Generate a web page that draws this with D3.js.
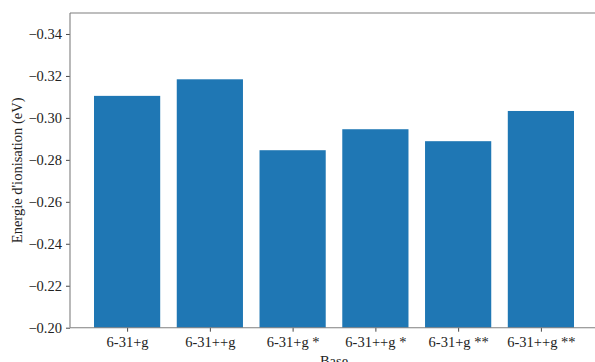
<!DOCTYPE html>
<html>
<head>
<meta charset="utf-8">
<script src="https://cdn.jsdelivr.net/npm/d3@7"></script>
<style>
  html, body { margin: 0; padding: 0; background: #fff; }
  svg { display: block; }
  text { font-family: "Liberation Serif", "DejaVu Serif", serif; fill: #222; }
</style>
</head>
<body>
<svg id="chart" width="595" height="362"></svg>
<script>
// Basis sets and their ionisation energies (eV)
const bases = ["6-31+g", "6-31++g", "6-31+g *", "6-31++g *", "6-31+g **", "6-31++g **"];
const energies = [-0.3105, -0.3184, -0.2846, -0.2946, -0.2889, -0.3033];
const yTicks = [-0.34, -0.32, -0.30, -0.28, -0.26, -0.24, -0.22, -0.20];

const svg = d3.select("#chart");
const plotLeft = 70, plotRight = 598, plotTop = 13, plotBottom = 327.7;
const barWidth = 0.8;

const x = d3.scaleLinear()
  .domain([-0.69, bases.length - 1 + 0.69])
  .range([plotLeft, plotRight]);

// Axis grows upward toward more negative energies
const y = d3.scaleLinear()
  .domain([-0.20, -0.35])
  .range([plotBottom, plotTop]);

svg.append("defs").append("clipPath").attr("id", "plot-clip")
  .append("rect")
  .attr("x", plotLeft).attr("y", plotTop)
  .attr("width", plotRight - plotLeft).attr("height", plotBottom - plotTop);

// Bars rise from the bottom of the plot to each energy
svg.append("g").attr("clip-path", "url(#plot-clip)")
  .selectAll("rect")
  .data(energies)
  .join("rect")
  .attr("x", (d, i) => x(i - barWidth / 2))
  .attr("width", (d, i) => x(i + barWidth / 2) - x(i - barWidth / 2))
  .attr("y", d => y(d))
  .attr("height", d => y(0) - y(d))
  .attr("fill", "#1f77b4");

const labelFont = '"Liberation Serif", "DejaVu Serif", serif';

// Y axis
const yAxis = svg.append("g")
  .attr("transform", `translate(${plotLeft},0)`)
  .call(d3.axisLeft(y).tickValues(yTicks).tickFormat(d3.format(".2f")).tickSize(4).tickPadding(4));
yAxis.select(".domain").remove();
yAxis.selectAll(".tick line").attr("stroke", "#333").attr("stroke-width", 0.9);
yAxis.selectAll(".tick text").attr("font-size", "14.5px").attr("fill", "#222")
  .style("font-family", labelFont);

// X axis
const xAxis = svg.append("g")
  .attr("transform", `translate(0,${plotBottom})`)
  .call(d3.axisBottom(x).tickValues(d3.range(bases.length)).tickFormat(i => bases[i]).tickSize(4).tickPadding(5));
xAxis.select(".domain").remove();
xAxis.selectAll(".tick line").attr("stroke", "#333").attr("stroke-width", 0.9);
xAxis.selectAll(".tick text").attr("font-size", "14.5px").attr("fill", "#222")
  .style("font-family", labelFont);

// Spines
const spine = "#7f7f7f";
const spines = [
  [plotLeft, plotTop, plotLeft, plotBottom],
  [plotLeft, plotBottom, plotRight, plotBottom],
  [plotLeft, plotTop, plotRight, plotTop],
  [plotRight, plotTop, plotRight, plotBottom]
];
svg.append("g").selectAll("line").data(spines).join("line")
  .attr("x1", d => d[0]).attr("y1", d => d[1])
  .attr("x2", d => d[2]).attr("y2", d => d[3])
  .attr("stroke", spine).attr("stroke-width", 1.1);

// Axis titles
svg.append("text")
  .attr("x", (plotLeft + plotRight) / 2).attr("y", 366)
  .attr("text-anchor", "middle").attr("font-size", "14.5px")
  .text("Base");

svg.append("text")
  .attr("transform", `translate(22,${(plotTop + plotBottom) / 2}) rotate(-90)`)
  .attr("text-anchor", "middle").attr("font-size", "14.5px")
  .text("Energie d'ionisation (eV)");
</script>
</body>
</html>
